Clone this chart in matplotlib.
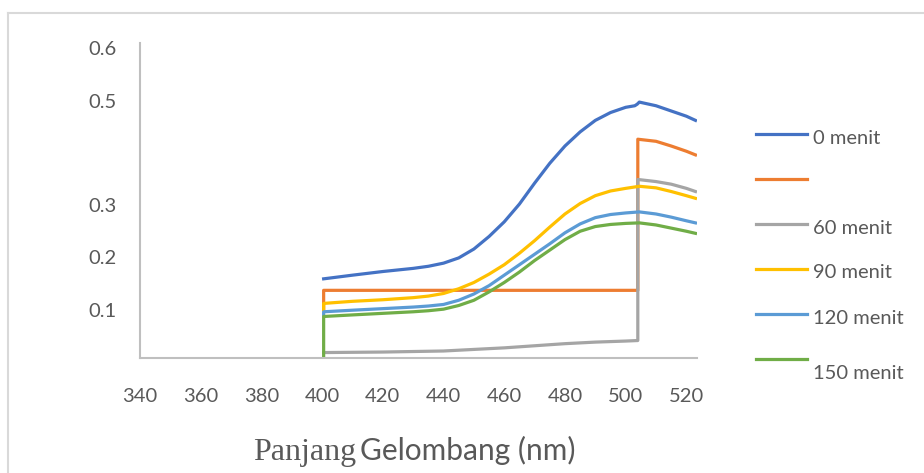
import matplotlib
matplotlib.use("Agg")
import matplotlib.pyplot as plt
from matplotlib.lines import Line2D

# ---- data ----
wl_0 = [400.5, 410, 420, 430, 435, 440, 445, 450, 455, 460, 465, 470, 475, 480, 485, 490, 495, 500, 503, 503.8, 504.5, 510, 515, 520, 523]
abs_0 = [0.159, 0.166, 0.173, 0.179, 0.183, 0.189, 0.199, 0.216, 0.240, 0.268, 0.302, 0.342, 0.380, 0.413, 0.440, 0.462, 0.477, 0.487, 0.490, 0.493, 0.497, 0.490, 0.480, 0.470, 0.462]

wl_30 = [400.5, 400.5, 504, 504, 510, 515, 520, 523]
abs_30 = [0.100, 0.137, 0.137, 0.426, 0.422, 0.413, 0.403, 0.396]

wl_60 = [400.5, 420, 440, 450, 460, 470, 480, 490, 500, 504, 504, 510, 515, 520, 523]
abs_60 = [0.018, 0.019, 0.021, 0.024, 0.027, 0.031, 0.035, 0.038, 0.040, 0.041, 0.349, 0.345, 0.340, 0.332, 0.326]

wl_s = [400.5, 400.5, 410, 420, 430, 435, 440, 445, 450, 455, 460, 465, 470, 475, 480, 485, 490, 495, 500, 504.5, 510, 515, 520, 523]
abs_90 = [0.100, 0.112, 0.116, 0.119, 0.123, 0.126, 0.131, 0.140, 0.152, 0.168, 0.186, 0.208, 0.232, 0.258, 0.283, 0.303, 0.318, 0.327, 0.332, 0.336, 0.333, 0.326, 0.318, 0.313]
abs_120 = [0.090, 0.096, 0.099, 0.102, 0.105, 0.107, 0.110, 0.118, 0.130, 0.146, 0.166, 0.186, 0.206, 0.226, 0.247, 0.264, 0.276, 0.282, 0.285, 0.287, 0.283, 0.277, 0.270, 0.266]
abs_150 = [0.000, 0.087, 0.090, 0.093, 0.096, 0.098, 0.101, 0.108, 0.118, 0.134, 0.152, 0.172, 0.194, 0.214, 0.234, 0.250, 0.259, 0.263, 0.265, 0.266, 0.262, 0.256, 0.250, 0.246]

labels = ["0 menit", "", "60 menit", "90 menit", "120 menit", "150 menit"]
colors = ["#4472C4", "#ED7D31", "#A5A5A5", "#FFC000", "#5B9BD5", "#70AD47"]

x_ticks = [340, 360, 380, 400, 420, 440, 460, 480, 500, 520]
y_ticks = [0.1, 0.2, 0.3, 0.5, 0.6]
y_ticklabels = ["0.1", "0.2", "0.3", "0.5", "0.6"]
x_label_a = "Panjang"
x_label_b = "Gelombang (nm)"

series = [(wl_0, abs_0), (wl_30, abs_30), (wl_60, abs_60),
          (wl_s, abs_90), (wl_s, abs_120), (wl_s, abs_150)]

W, H = 924, 473
fig = plt.figure(figsize=(W / 100, H / 100), dpi=100)
fig.patch.set_facecolor("white")

def fx(px):
    return px / W

def fy(py):
    return 1 - py / H

ax = fig.add_axes([fx(140), fy(358), fx(697) - fx(140), fy(43) - fy(358)])
for (xs, ys), c in zip(series, colors):
    ax.plot(xs, ys, color=c, lw=2.3, solid_joinstyle="round", clip_on=True)

ax.set_xlim(340, 523.5)
ax.set_ylim(0.0076, 0.61)
ax.set_xticks(x_ticks)
ax.set_yticks(y_ticks)
ax.set_yticklabels(y_ticklabels)
ax.tick_params(length=0, labelcolor="#595959", labelsize=14.5)
ax.tick_params(axis="x", pad=21.5)
ax.tick_params(axis="y", pad=17)
for lab in ax.get_xticklabels() + ax.get_yticklabels():
    lab.set_family("Lato")
for s in ["top", "right"]:
    ax.spines[s].set_visible(False)
for s in ["left", "bottom"]:
    ax.spines[s].set_color("#BFBFBF")
    ax.spines[s].set_linewidth(1.5)

# x axis title (mixed fonts as in the reference)
fig.text(fx(253), fy(460), x_label_a, family="Liberation Serif", fontsize=23,
         color="#595959", va="baseline", ha="left")
fig.text(fx(360), fy(460), x_label_b, family="Lato", fontsize=21.5,
         color="#595959", va="baseline", ha="left")

# legend
leg_line_y = [134, 179, 224, 269, 314, 359]
leg_text_y = [139, 179, 228, 273, 318, 373]
for c, lab, ly, ty in zip(colors, labels, leg_line_y, leg_text_y):
    fig.add_artist(Line2D([fx(756), fx(807)], [fy(ly), fy(ly)], color=c, lw=2.3,
                          transform=fig.transFigure))
    if lab:
        fig.text(fx(813), fy(ty), lab, family="Lato", fontsize=14.5,
                 color="#595959", va="center", ha="left")

# outer chart border
fig.add_artist(Line2D([fx(8), fx(924)], [fy(13), fy(13)], color="#D9D9D9", lw=1.5,
                      transform=fig.transFigure))
fig.add_artist(Line2D([fx(8), fx(8)], [fy(13), fy(473)], color="#D9D9D9", lw=1.5,
                      transform=fig.transFigure))

fig.savefig("out.png", dpi=100)
